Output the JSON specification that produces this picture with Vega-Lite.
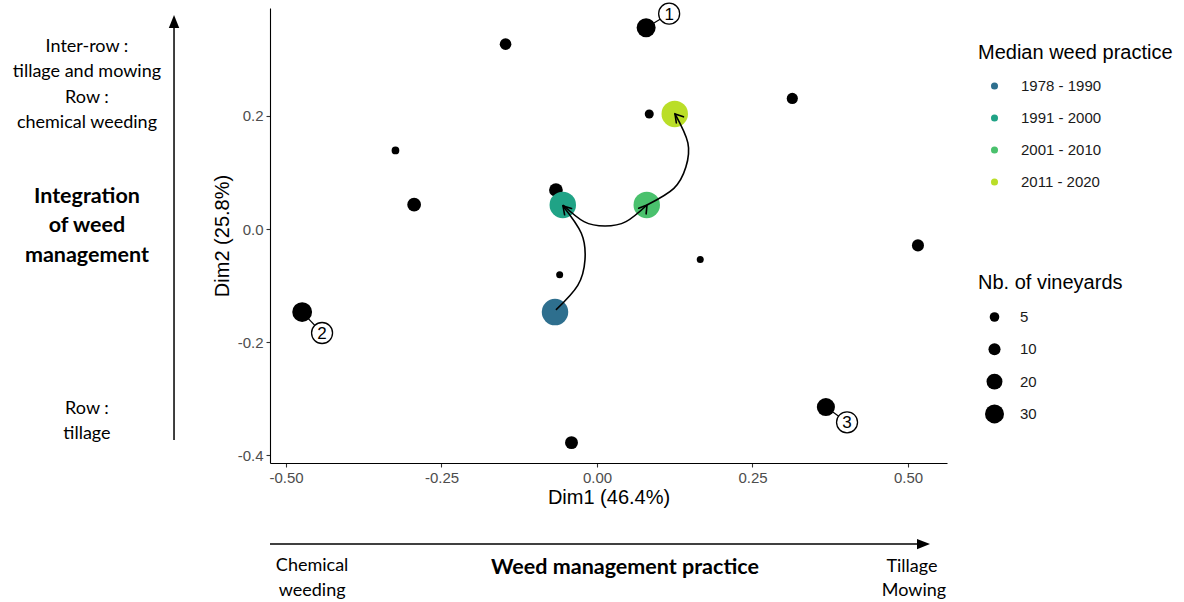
{
  "$schema": "https://vega.github.io/schema/vega-lite/v6.json",
  "width": 677,
  "height": 455,
  "autosize": {"type": "none"},
  "padding": {"left": 270, "top": 8, "right": 237, "bottom": 139},
  "background": "white",
  "datasets": {
    "pts": [
      {"x": 0.079, "y": 0.356, "n": 30},
      {"x": -0.147, "y": 0.327, "n": 9},
      {"x": 0.084, "y": 0.2035, "n": 4},
      {"x": 0.314, "y": 0.231, "n": 8},
      {"x": -0.324, "y": 0.139, "n": 2},
      {"x": -0.066, "y": 0.069, "n": 14},
      {"x": -0.294, "y": 0.043, "n": 14},
      {"x": 0.516, "y": -0.029, "n": 10},
      {"x": 0.166, "y": -0.054, "n": 1},
      {"x": -0.06, "y": -0.081, "n": 1},
      {"x": -0.474, "y": -0.147, "n": 33},
      {"x": 0.368, "y": -0.315, "n": 27},
      {"x": -0.041, "y": -0.378, "n": 12}
    ],
    "periods": [
      {"x": -0.0675, "y": -0.147, "period": "1978 - 1990"},
      {"x": -0.055, "y": 0.0425, "period": "1991 - 2000"},
      {"x": 0.08, "y": 0.0425, "period": "2001 - 2010"},
      {"x": 0.125, "y": 0.2035, "period": "2011 - 2020"}
    ],
    "curves": [
      {"arrow": "a", "ord": 0, "x": -0.066, "y": -0.143},
      {"arrow": "a", "ord": 1, "x": -0.0309, "y": -0.0996},
      {"arrow": "a", "ord": 2, "x": -0.0193, "y": -0.0543},
      {"arrow": "a", "ord": 3, "x": -0.0252, "y": -0.0076},
      {"arrow": "a", "ord": 4, "x": -0.0547, "y": 0.0407},
      {"arrow": "b", "ord": 0, "x": -0.0547, "y": 0.0425},
      {"arrow": "b", "ord": 1, "x": -0.0209, "y": 0.0131},
      {"arrow": "b", "ord": 2, "x": 0.0129, "y": 0.0053},
      {"arrow": "b", "ord": 3, "x": 0.0466, "y": 0.0131},
      {"arrow": "b", "ord": 4, "x": 0.0804, "y": 0.0425},
      {"arrow": "c", "ord": 0, "x": 0.0804, "y": 0.0425},
      {"arrow": "c", "ord": 1, "x": 0.1236, "y": 0.0719},
      {"arrow": "c", "ord": 2, "x": 0.1429, "y": 0.1096},
      {"arrow": "c", "ord": 3, "x": 0.1461, "y": 0.1524},
      {"arrow": "c", "ord": 4, "x": 0.1254, "y": 0.2035}
    ],
    "heads": [
      {"x": -0.0547, "y": 0.0407, "heading": 318},
      {"x": 0.0804, "y": 0.0425, "heading": 37},
      {"x": 0.1254, "y": 0.2035, "heading": 320}
    ],
    "links": [
      {"x": 0.079, "y": 0.356, "x2": 0.116, "y2": 0.381},
      {"x": -0.474, "y": -0.147, "x2": -0.442, "y2": -0.184},
      {"x": 0.368, "y": -0.315, "x2": 0.402, "y2": -0.342}
    ],
    "badges": [
      {"x": 0.116, "y": 0.381, "label": "1"},
      {"x": -0.442, "y": -0.184, "label": "2"},
      {"x": 0.402, "y": -0.342, "label": "3"}
    ],
    "guides": [
      {"x": -0.68, "y": -0.3735, "x2": -0.68, "y2": 0.36},
      {"x": -0.5257, "y": -0.5575, "x2": 0.52, "y2": -0.5575}
    ],
    "guideHeads": [
      {"x": -0.68, "y": 0.3788, "heading": 0},
      {"x": 0.5354, "y": -0.5575, "heading": 90}
    ],
    "notes": [
      {"x": -0.82, "y": 0.322, "text": "Inter-row :"},
      {"x": -0.82, "y": 0.278, "text": "tillage and mowing"},
      {"x": -0.82, "y": 0.232, "text": "Row :"},
      {"x": -0.82, "y": 0.188, "text": "chemical weeding"},
      {"x": -0.82, "y": -0.3186, "text": "Row :"},
      {"x": -0.82, "y": -0.3628, "text": "tillage"},
      {"x": -0.458, "y": -0.5965, "text": "Chemical"},
      {"x": -0.458, "y": -0.6407, "text": "weeding"},
      {"x": 0.5064, "y": -0.598, "text": "Tillage"},
      {"x": 0.5096, "y": -0.6407, "text": "Mowing"}
    ],
    "boldNotes": [
      {"x": -0.82, "y": 0.0566, "text": "Integration"},
      {"x": -0.82, "y": 0.0053, "text": "of weed"},
      {"x": -0.82, "y": -0.0478, "text": "management"},
      {"x": 0.045, "y": -0.6, "text": "Weed management practice"}
    ]
  },
  "encoding": {
    "x": {
      "field": "x", "type": "quantitative",
      "scale": {"domain": [-0.5257, 0.5627], "nice": false, "zero": false},
      "axis": {"title": "Dim1 (46.4%)", "values": [-0.5, -0.25, 0, 0.25, 0.5], "format": ".2f",
               "labelExpr": "replace(datum.label, '\u2212', '-')", "titlePadding": 2}
    },
    "y": {
      "field": "y", "type": "quantitative",
      "scale": {"domain": [-0.414, 0.391], "nice": false, "zero": false},
      "axis": {"title": "Dim2 (25.8%)", "values": [-0.4, -0.2, 0, 0.2], "format": ".1f",
               "labelExpr": "replace(datum.label, '\u2212', '-')", "titlePadding": 5}
    }
  },
  "layer": [
    {
      "data": {"name": "links"},
      "mark": {"type": "rule", "color": "black", "strokeWidth": 1.2},
      "encoding": {"x2": {"field": "x2"}, "y2": {"field": "y2"}}
    },
    {
      "data": {"name": "pts"},
      "mark": {"type": "point", "shape": "circle", "filled": true, "color": "black", "opacity": 1},
      "encoding": {
        "size": {
          "field": "n", "type": "quantitative",
          "scale": {"domain": [1, 30], "range": [49, 361]},
          "legend": {
            "title": "Nb. of vineyards", "values": [5, 10, 20, 30],
            "orient": "none", "legendX": 708, "legendY": 265,
            "symbolFillColor": "black", "symbolStrokeColor": "black", "symbolStrokeWidth": 0,
            "symbolOffset": 7, "labelOffset": 16, "clipHeight": 20, "rowPadding": 12.3, "titlePadding": 14
          }
        }
      }
    },
    {
      "data": {"name": "periods"},
      "mark": {"type": "point", "shape": "circle", "filled": true, "size": 700, "opacity": 1},
      "encoding": {
        "color": {
          "field": "period", "type": "nominal",
          "scale": {"domain": ["1978 - 1990", "1991 - 2000", "2001 - 2010", "2011 - 2020"],
                    "range": ["#2E6F8E", "#20A386", "#4AC16D", "#BADE28"]},
          "legend": {
            "title": "Median weed practice",
            "orient": "none", "legendX": 708, "legendY": 35,
            "symbolSize": 50, "symbolType": "circle", "symbolStrokeWidth": 0,
            "symbolOffset": 9, "labelOffset": 19, "clipHeight": 20, "rowPadding": 12, "titlePadding": 13
          }
        }
      }
    },
    {
      "data": {"name": "curves"},
      "mark": {"type": "line", "color": "black", "strokeWidth": 1.6, "interpolate": "natural"},
      "encoding": {"detail": {"field": "arrow"}, "order": {"field": "ord"}}
    },
    {
      "data": {"name": "heads"},
      "mark": {"type": "point", "shape": "M-0.55,0.9L0,0L0.55,0.9", "filled": false, "color": "black",
               "strokeWidth": 1.6, "size": 289, "opacity": 1, "strokeCap": "round", "strokeJoin": "miter"},
      "encoding": {"angle": {"field": "heading", "type": "quantitative", "scale": null}}
    },
    {
      "data": {"name": "badges"},
      "mark": {"type": "point", "shape": "circle", "filled": true, "fill": "white", "stroke": "black",
               "strokeWidth": 1.3, "size": 441, "opacity": 1}
    },
    {
      "data": {"name": "badges"},
      "mark": {"type": "text", "font": "Liberation Sans", "fontSize": 17, "color": "black",
               "align": "center", "baseline": "middle", "dy": 1},
      "encoding": {"text": {"field": "label"}}
    },
    {
      "data": {"name": "guides"},
      "mark": {"type": "rule", "color": "black", "strokeWidth": 1.5},
      "encoding": {"x2": {"field": "x2"}, "y2": {"field": "y2"}}
    },
    {
      "data": {"name": "guideHeads"},
      "mark": {"type": "point", "shape": "M0,0L-0.4,1L0.4,1Z", "filled": true, "color": "black",
               "size": 676, "opacity": 1},
      "encoding": {"angle": {"field": "heading", "type": "quantitative", "scale": null}}
    },
    {
      "data": {"name": "notes"},
      "mark": {"type": "text", "font": "Lato", "fontSize": 18, "color": "black",
               "align": "center", "baseline": "middle"},
      "encoding": {"text": {"field": "text"}}
    },
    {
      "data": {"name": "boldNotes"},
      "mark": {"type": "text", "font": "Lato", "fontSize": 21.5, "fontWeight": "bold", "color": "black",
               "align": "center", "baseline": "middle"},
      "encoding": {"text": {"field": "text"}}
    }
  ],
  "config": {
    "view": {"stroke": null},
    "axis": {
      "grid": false,
      "labelFont": "Liberation Sans", "labelFontSize": 15, "labelColor": "#4d4d4d",
      "titleFont": "Liberation Sans", "titleFontSize": 20, "titleFontWeight": "normal", "titleColor": "black",
      "domainColor": "black", "domainWidth": 1.1, "tickColor": "#333333", "tickSize": 4, "tickWidth": 1.1,
      "labelPadding": 3
    },
    "legend": {
      "titleFont": "Liberation Sans", "titleFontSize": 20, "titleFontWeight": "normal", "titleColor": "black",
      "titleLimit": 400,
      "labelFont": "Liberation Sans", "labelFontSize": 15, "labelColor": "#1a1a1a"
    }
  }
}
